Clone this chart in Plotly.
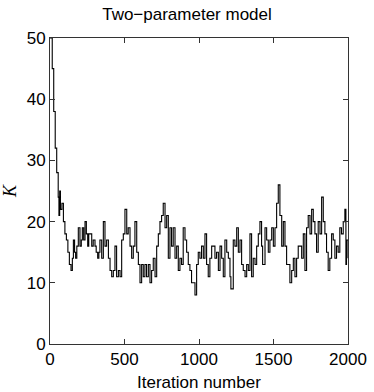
import plotly.graph_objects as go

iterations = [0, 15, 25, 35, 45, 55, 60, 65, 70, 80, 90, 100, 110, 120, 130, 141, 150, 157, 165, 172,
              180, 190, 201, 210, 217, 226, 235, 244, 253, 260, 268, 280, 290, 302, 310, 320, 328, 335, 347, 358,
              369, 380, 392, 403, 414, 425, 436, 447, 459, 470, 481, 492, 503, 515, 525, 537, 548, 559, 570, 582,
              593, 604, 615, 626, 637, 648, 660, 671, 682, 693, 705, 716, 727, 738, 749, 760, 772, 783, 794, 805,
              816, 827, 839, 850, 861, 872, 883, 894, 906, 917, 928, 939, 950, 962, 973, 984, 995, 1006, 1017, 1029,
              1040, 1051, 1062, 1073, 1085, 1096, 1107, 1118, 1130, 1141, 1152, 1163, 1174, 1186, 1197, 1208, 1214, 1230, 1241, 1253,
              1264, 1275, 1286, 1297, 1309, 1320, 1331, 1342, 1353, 1364, 1376, 1387, 1398, 1409, 1420, 1427, 1443, 1454, 1465, 1476,
              1488, 1499, 1510, 1521, 1532, 1543, 1555, 1566, 1577, 1588, 1599, 1610, 1622, 1633, 1644, 1655, 1666, 1678, 1689, 1700,
              1711, 1722, 1733, 1745, 1756, 1767, 1778, 1789, 1800, 1812, 1823, 1834, 1845, 1856, 1867, 1878, 1890, 1901, 1912, 1923,
              1934, 1945, 1956, 1968, 1979, 1986, 1990, 2000]
k_values = [50, 45, 38, 32, 28, 24, 21, 25, 22, 23, 20, 18, 17, 15, 13, 12, 14, 17, 15, 14,
            16, 19, 16, 17, 19, 17, 20, 18, 16, 18, 18, 16, 17, 16, 15, 14, 15, 17, 14, 20,
            16, 17, 14, 12, 11, 12, 16, 11, 12, 11, 17, 18, 22, 18, 19, 16, 14, 16, 20, 15,
            13, 10, 13, 11, 13, 11, 13, 10, 12, 14, 11, 16, 18, 20, 21, 23, 19, 21, 14, 19,
            16, 19, 14, 16, 12, 14, 13, 19, 17, 15, 13, 12, 10, 10, 8, 13, 15, 14, 16, 14,
            18, 13, 11, 14, 16, 16, 14, 15, 12, 16, 14, 11, 17, 15, 14, 11, 9, 17, 16, 19,
            15, 17, 13, 12, 11, 13, 12, 18, 11, 14, 13, 16, 18, 20, 16, 13, 19, 17, 15, 17,
            19, 16, 19, 23, 26, 21, 16, 20, 16, 13, 13, 10, 12, 14, 11, 14, 16, 16, 14, 18,
            12, 19, 21, 18, 22, 20, 18, 15, 20, 18, 24, 20, 18, 15, 12, 14, 18, 17, 14, 16,
            15, 19, 18, 20, 22, 13, 17, 14]

x_ticks = [0, 500, 1000, 1500, 2000]
y_ticks = [0, 10, 20, 30, 40, 50]

fig = go.Figure()
fig.add_trace(go.Scatter(x=iterations, y=k_values, mode="lines",
                         line=dict(color="black", width=1.1, shape="hv"),
                         showlegend=False, hoverinfo="skip"))

font_family = "Liberation Sans, Arial, sans-serif"
axis_common = dict(showgrid=False, zeroline=False, showline=True, linecolor="#333333",
                   linewidth=1, mirror="ticks", ticks="inside", ticklen=5, automargin=False,
                   tickcolor="#333333", tickfont=dict(family=font_family, size=17, color="black"))

fig.update_layout(
    width=374, height=392,
    margin=dict(l=50, r=26, t=38, b=48),
    paper_bgcolor="white", plot_bgcolor="white",
    title=dict(text="Two\u2212parameter model", x=0.5, xanchor="center", y=0.964, yanchor="middle",
               font=dict(family=font_family, size=17, color="black")),
    xaxis=dict(range=[0, 2000], tickvals=x_ticks, **axis_common),
    yaxis=dict(range=[0, 50], tickvals=y_ticks,
               title=dict(text="<i>K</i>", standoff=8, font=dict(family="Liberation Serif, Times New Roman, serif", size=18, color="black")),
               **axis_common),
    annotations=[dict(text="Iteration number", xref="paper", yref="paper", x=0.5, y=-0.127,
                      xanchor="center", yanchor="middle", showarrow=False,
                      font=dict(family=font_family, size=17, color="black"))],
)

fig.write_html("out.html", config={"displayModeBar": False},
               post_script="document.body.style.margin='0';document.body.style.overflow='hidden';")
